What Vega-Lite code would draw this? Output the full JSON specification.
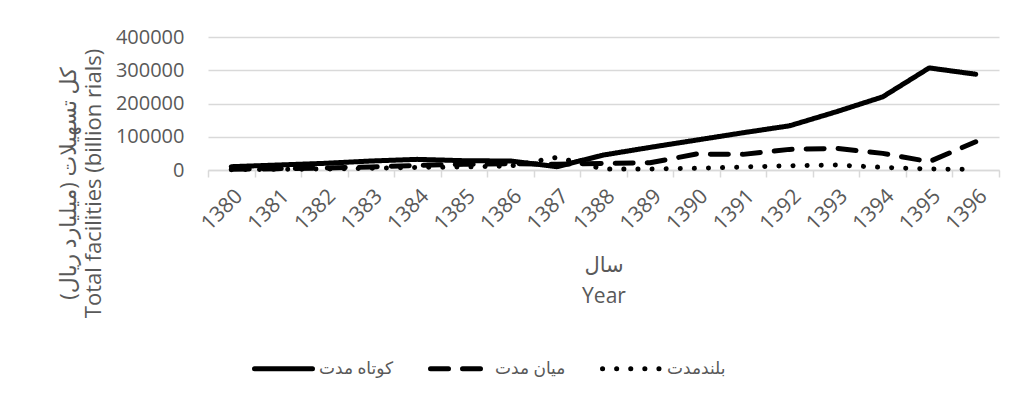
{
  "$schema": "https://vega.github.io/schema/vega-lite/v6.json",
  "autosize": {"type": "none"},
  "width": 791,
  "height": 133,
  "padding": {"left": 208, "top": 37, "right": 22, "bottom": 233},
  "background": "white",
  "data": {
    "values": [
      {"year": "1380", "series": "کوتاه مدت", "value": 10000},
      {"year": "1381", "series": "کوتاه مدت", "value": 15000},
      {"year": "1382", "series": "کوتاه مدت", "value": 20000},
      {"year": "1383", "series": "کوتاه مدت", "value": 27000},
      {"year": "1384", "series": "کوتاه مدت", "value": 32000},
      {"year": "1385", "series": "کوتاه مدت", "value": 28000},
      {"year": "1386", "series": "کوتاه مدت", "value": 27000},
      {"year": "1387", "series": "کوتاه مدت", "value": 10000},
      {"year": "1388", "series": "کوتاه مدت", "value": 45000},
      {"year": "1389", "series": "کوتاه مدت", "value": 68000},
      {"year": "1390", "series": "کوتاه مدت", "value": 90000},
      {"year": "1391", "series": "کوتاه مدت", "value": 112000},
      {"year": "1392", "series": "کوتاه مدت", "value": 133000},
      {"year": "1393", "series": "کوتاه مدت", "value": 175000},
      {"year": "1394", "series": "کوتاه مدت", "value": 220000},
      {"year": "1395", "series": "کوتاه مدت", "value": 307000},
      {"year": "1396", "series": "کوتاه مدت", "value": 288000},
      {"year": "1380", "series": "میان مدت", "value": 2000},
      {"year": "1381", "series": "میان مدت", "value": 4000},
      {"year": "1382", "series": "میان مدت", "value": 6000},
      {"year": "1383", "series": "میان مدت", "value": 9000},
      {"year": "1384", "series": "میان مدت", "value": 14000},
      {"year": "1385", "series": "میان مدت", "value": 17000},
      {"year": "1386", "series": "میان مدت", "value": 19000},
      {"year": "1387", "series": "میان مدت", "value": 17000},
      {"year": "1388", "series": "میان مدت", "value": 20000},
      {"year": "1389", "series": "میان مدت", "value": 22000},
      {"year": "1390", "series": "میان مدت", "value": 48000},
      {"year": "1391", "series": "میان مدت", "value": 47000},
      {"year": "1392", "series": "میان مدت", "value": 62000},
      {"year": "1393", "series": "میان مدت", "value": 65000},
      {"year": "1394", "series": "میان مدت", "value": 50000},
      {"year": "1395", "series": "میان مدت", "value": 25000},
      {"year": "1396", "series": "میان مدت", "value": 85000},
      {"year": "1380", "series": "بلندمدت", "value": 1000},
      {"year": "1381", "series": "بلندمدت", "value": 2000},
      {"year": "1382", "series": "بلندمدت", "value": 3000},
      {"year": "1383", "series": "بلندمدت", "value": 5000},
      {"year": "1384", "series": "بلندمدت", "value": 8000},
      {"year": "1385", "series": "بلندمدت", "value": 9000},
      {"year": "1386", "series": "بلندمدت", "value": 12000},
      {"year": "1387", "series": "بلندمدت", "value": 38000},
      {"year": "1388", "series": "بلندمدت", "value": 3000},
      {"year": "1389", "series": "بلندمدت", "value": 3000},
      {"year": "1390", "series": "بلندمدت", "value": 5000},
      {"year": "1391", "series": "بلندمدت", "value": 9000},
      {"year": "1392", "series": "بلندمدت", "value": 13000},
      {"year": "1393", "series": "بلندمدت", "value": 15000},
      {"year": "1394", "series": "بلندمدت", "value": 8000},
      {"year": "1395", "series": "بلندمدت", "value": 3000},
      {"year": "1396", "series": "بلندمدت", "value": 2000}
    ]
  },
  "mark": {"type": "line", "color": "black", "strokeWidth": 5, "strokeCap": "round", "strokeJoin": "round"},
  "encoding": {
    "x": {
      "field": "year",
      "type": "ordinal",
      "bandPosition": 0.5,
      "scale": {"type": "band", "paddingInner": 0, "paddingOuter": 0},
      "axis": {
        "title": ["سال", "Year"],
        "titleFontSize": 21,
        "titleFontWeight": "normal",
        "titleColor": "#595959",
        "titleLineHeight": 31,
        "titleBaseline": "top",
        "titleY": 84,
        "labelAngle": -45,
        "labelFontSize": 21,
        "labelColor": "#595959",
        "labelPadding": 8,
        "tickBand": "extent",
        "tickSize": 7,
        "tickColor": "#d9d9d9",
        "tickWidth": 1.5,
        "domainColor": "#d9d9d9",
        "domainWidth": 1.5,
        "grid": false
      }
    },
    "y": {
      "field": "value",
      "type": "quantitative",
      "scale": {"domain": [0, 400000], "nice": false},
      "axis": {
        "values": [0, 100000, 200000, 300000, 400000],
        "format": "d",
        "title": ["کل تسهیلات (میلیارد ریال)", "Total facilities (billion rials)"],
        "titleFontSize": 22,
        "titleFontWeight": "normal",
        "titleColor": "#595959",
        "titleLineHeight": 25,
        "titleBaseline": "top",
        "titleX": -150,
        "titleY": 146,
        "labelFontSize": 20,
        "labelColor": "#595959",
        "labelPadding": 24,
        "domain": false,
        "ticks": false,
        "gridColor": "#d9d9d9",
        "gridWidth": 1.5
      }
    },
    "strokeDash": {
      "field": "series",
      "type": "nominal",
      "scale": {
        "domain": ["کوتاه مدت", "میان مدت", "بلندمدت"],
        "range": [[1, 0], [18, 14], [0.1, 14]]
      },
      "legend": {
        "title": null,
        "orient": "none",
        "direction": "horizontal",
        "legendX": 44,
        "legendY": 300,
        "symbolType": "stroke",
        "symbolSize": 3364,
        "symbolStrokeWidth": 5,
        "symbolStrokeColor": "black",
        "labelFontSize": 17,
        "labelColor": "#595959",
        "labelOffset": 4,
        "columnPadding": 26,
        "encode": {"symbols": {"update": {"strokeCap": {"value": "round"}}}}
      }
    }
  },
  "config": {
    "font": "Open Sans, DejaVu Sans",
    "view": {"stroke": null}
  }
}
